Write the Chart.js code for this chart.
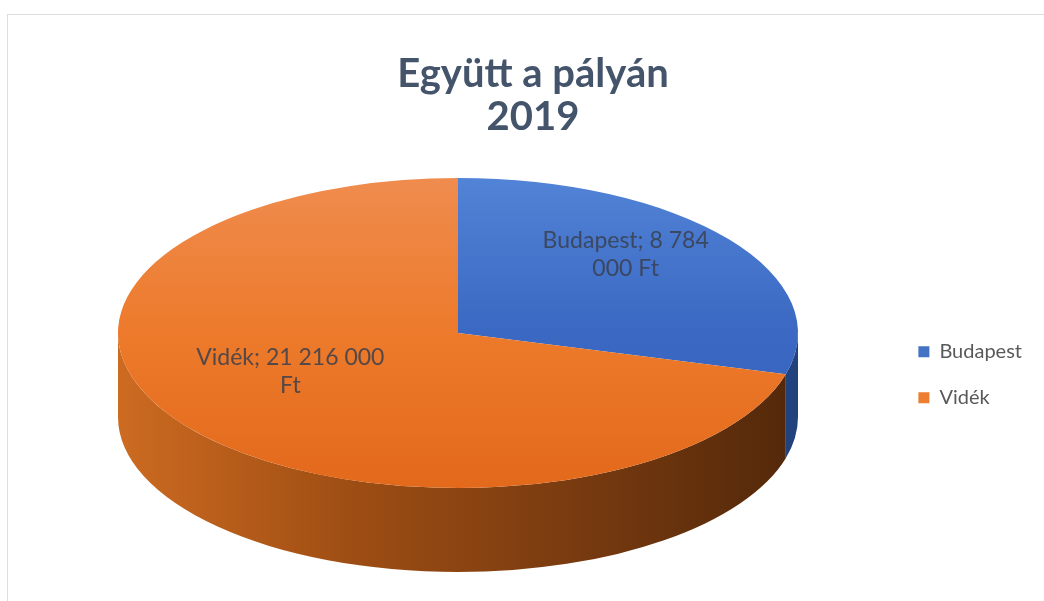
<!DOCTYPE html>
<html>
<head>
<meta charset="utf-8">
<script src="https://cdn.jsdelivr.net/npm/chart.js@4"></script>
<style>
body { margin: 0; background: #fff; }
#frame { position: absolute; left: 7px; top: 14px; width: 1100px; height: 700px;
  border-left: 1px solid #dedede; border-top: 1px solid #dedede; }
#wrap { position: absolute; left: 0; top: 0; width: 1044px; height: 601px; }
</style>
</head>
<body>
<div id="frame"></div>
<div id="wrap"><canvas id="myChart"></canvas></div>
<script>
var labels = ["Budapest", "Vidék"];
var values = [8784000, 21216000];
var unit = "Ft";
var titleLines = ["Együtt a pályán", "2019"];

var sliceColors = ["#4472c4", "#ed7d31"];
var topStops = [
  [[0, "#5183d6"], [0.5, "#3a68c2"], [1, "#3561bc"]],
  [[0, "#ef8c4e"], [0.5, "#ed7a2b"], [1, "#e3691b"]]
];
var sideStops = [
  [[0, "#3a63b0"], [1, "#22427e"]],
  [[0, "#cd6b21"], [0.35, "#9d4d13"], [0.65, "#7b3c10"], [1, "#52280a"]]
];

// where the squashed pie sits on the page
var PIE = { cx: 458, cy: 333, rx: 340, ry: 155, depth: 84, labelAt: 0.62, lift: 20, wrap: 198 };
var labelFont = "23px Lato";

function fmt(v) {
  return String(v).replace(/\B(?=(\d{3})+(?!\d))/g, " ");
}

function wrapText(ctx, text, maxW) {
  var words = text.split(" ");
  var lines = [], cur = "";
  words.forEach(function (w) {
    var t = cur ? cur + " " + w : w;
    if (cur && ctx.measureText(t).width > maxW) {
      lines.push(cur);
      cur = w;
    } else {
      cur = t;
    }
  });
  if (cur) lines.push(cur);
  return lines;
}

function grad(ctx, x0, y0, x1, y1, stops) {
  var g = ctx.createLinearGradient(x0, y0, x1, y1);
  stops.forEach(function (s) { g.addColorStop(s[0], s[1]); });
  return g;
}

var pie3d = {
  id: "pie3d",
  beforeDatasetsDraw: function (chart) {
    var ctx = chart.ctx;
    var arcs = chart.getDatasetMeta(0).data;
    // side wall, only the front half of the ellipse
    arcs.forEach(function (arc, i) {
      var a0 = Math.max(arc.startAngle, 0);
      var a1 = Math.min(arc.endAngle, Math.PI);
      if (a1 <= a0) return;
      ctx.save();
      ctx.beginPath();
      ctx.ellipse(PIE.cx, PIE.cy, PIE.rx, PIE.ry, 0, a0, a1);
      ctx.ellipse(PIE.cx, PIE.cy + PIE.depth, PIE.rx, PIE.ry, 0, a1, a0, true);
      ctx.closePath();
      ctx.fillStyle = grad(ctx, PIE.cx - PIE.rx, 0, PIE.cx + PIE.rx, 0, sideStops[i]);
      ctx.fill();
      ctx.restore();
    });
    // squash the top face
    var a = arcs[0];
    ctx.save();
    ctx.translate(PIE.cx, PIE.cy);
    ctx.scale(PIE.rx / a.outerRadius, PIE.ry / a.outerRadius);
    ctx.translate(-a.x, -a.y);
  },
  afterDatasetsDraw: function (chart) {
    var ctx = chart.ctx;
    ctx.restore();
    var arcs = chart.getDatasetMeta(0).data;
    ctx.save();
    ctx.font = labelFont;
    ctx.fillStyle = "rgba(58,64,78,0.85)";
    ctx.textAlign = "center";
    ctx.textBaseline = "middle";
    arcs.forEach(function (arc, i) {
      var m = (arc.startAngle + arc.endAngle) / 2;
      var x = PIE.cx + PIE.rx * PIE.labelAt * Math.cos(m);
      var y = PIE.cy + PIE.ry * PIE.labelAt * Math.sin(m) - PIE.lift;
      var lines = wrapText(ctx, labels[i] + "; " + fmt(values[i]) + " " + unit, PIE.wrap);
      var lh = 28;
      lines.forEach(function (ln, k) {
        ctx.fillText(ln, x, y + (k - (lines.length - 1) / 2) * lh);
      });
    });
    ctx.restore();
  }
};

new Chart("myChart", {
  type: "pie",
  data: {
    labels: labels,
    datasets: [{
      data: values,
      borderWidth: 0,
      clip: false,
      backgroundColor: function (c) {
        var ca = c.chart.chartArea;
        if (!ca) return sliceColors[c.dataIndex];
        return grad(c.chart.ctx, 0, ca.top, 0, ca.bottom, topStops[c.dataIndex]);
      }
    }]
  },
  plugins: [pie3d],
  options: {
    responsive: true,
    maintainAspectRatio: false,
    animation: false,
    layout: { padding: { left: 34, right: 12, top: 0, bottom: 0 } },
    plugins: {
      tooltip: { enabled: false },
      title: {
        display: true,
        text: titleLines,
        color: "#44546a",
        font: { family: "Lato", size: 40, weight: "bold", lineHeight: 1.07 },
        padding: { top: 53, bottom: 10 }
      },
      legend: {
        position: "right",
        fullSize: false,
        labels: {
          boxWidth: 11,
          boxHeight: 11,
          padding: 26,
          color: "#595959",
          font: { family: "Lato", size: 20 },
          generateLabels: function (chart) {
            var items = Chart.overrides.pie.plugins.legend.labels.generateLabels(chart);
            items.forEach(function (it, i) {
              it.fillStyle = sliceColors[i];
              it.strokeStyle = sliceColors[i];
              it.lineWidth = 0;
            });
            return items;
          }
        }
      }
    }
  }
});
</script>
</body>
</html>
